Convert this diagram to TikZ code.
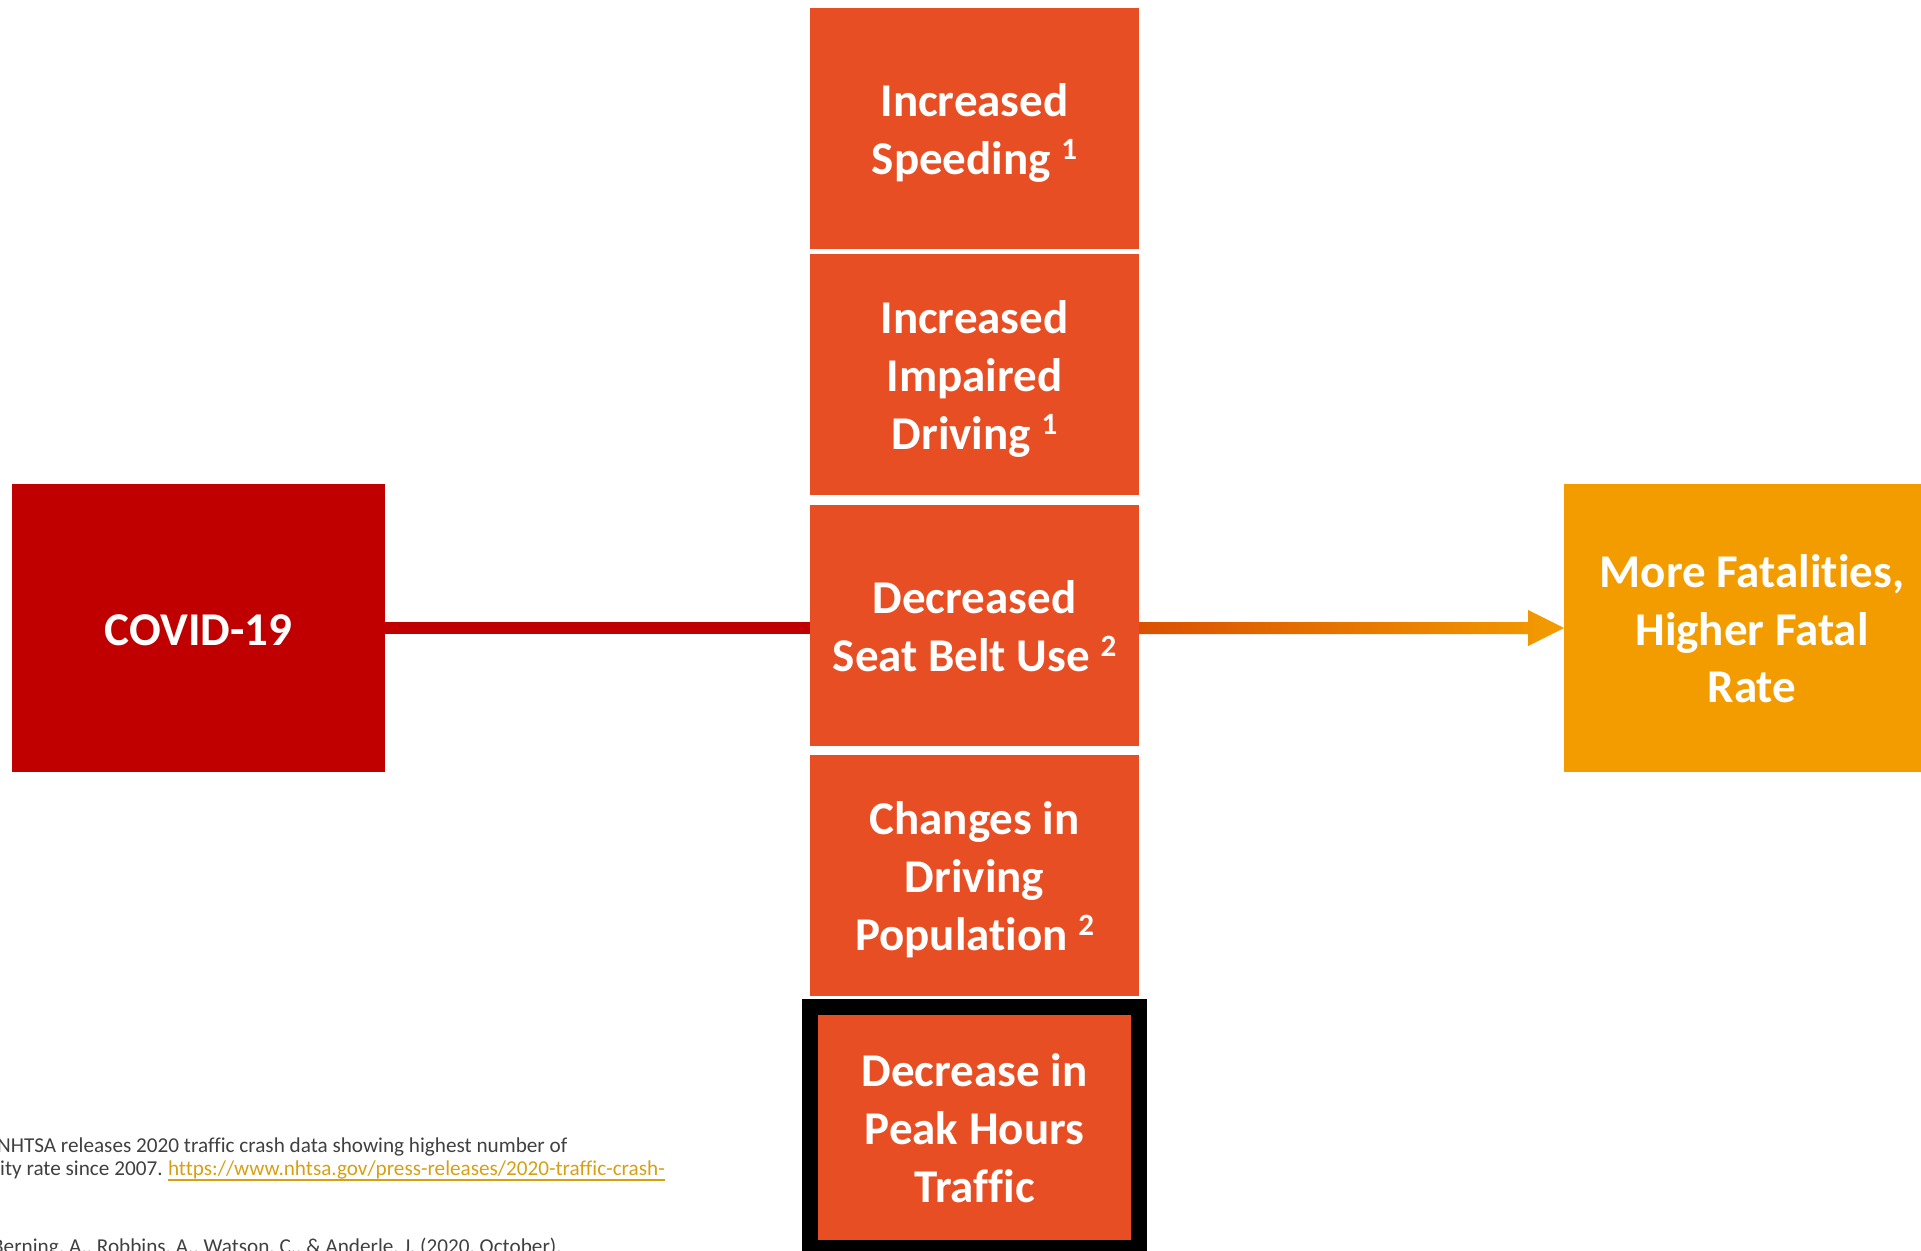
\documentclass[tikz,border=0pt]{standalone}
\usepackage{fontspec}
\setmainfont{Carlito}[Ligatures={NoCommon, NoRequired, NoContextual, NoRare, NoHistoric}]
\usetikzlibrary{positioning, arrows.meta}

\definecolor{covidred}{HTML}{C00000}
\definecolor{causeorange}{HTML}{E84E24}
\definecolor{fatalorange}{HTML}{F39C00}
\definecolor{arrowstart}{HTML}{DA5000}
\definecolor{notegray}{HTML}{404040}
\definecolor{linkgold}{HTML}{D6A014}

\newcommand{\refmark}[1]{\raisebox{15pt}{\fontsize{31}{31}\selectfont #1}}
\newcommand{\linestrut}{\rule[-11.8pt]{0pt}{57.6pt}}

\begin{document}
\begin{tikzpicture}[x=1pt, y=-1pt,
    box/.style={fill=causeorange, text=white, inner sep=0pt, outer sep=0pt,
      minimum width=329pt, minimum height=241pt, align=center,
      font=\fontsize{47}{57.6}\selectfont\bfseries},
    endbox/.style={box, minimum width=373pt, minimum height=288pt},
    note/.style={anchor=base west, inner sep=0pt, text=notegray,
      font=\fontsize{21.2}{23}\selectfont}]
  \useasboundingbox (0,0) rectangle (1921,1250);
  \clip (0,0) rectangle (1921,1250);

  \node[endbox, fill=covidred] (covid) at (198.5,628) {\linestrut COVID-19};
  \node[endbox, fill=fatalorange, minimum width=376pt] (fatal) at (1752,628)
    {\linestrut More Fatalities,\\Higher Fatal\\Rate\linestrut};

  \node[box] (speeding) at (974.5,128.5) {\linestrut Increased\\Speeding \refmark{1}\linestrut};
  \node[box, below=5pt of speeding] (impaired)
    {\linestrut Increased\\Impaired\\Driving \refmark{1}\linestrut};
  \node[box, below=10pt of impaired] (seatbelt)
    {\linestrut Decreased\\Seat Belt Use \refmark{2}\linestrut};
  \node[box, below=9pt of seatbelt] (population)
    {\linestrut Changes in\\Driving\\Population \refmark{2}\linestrut};
  \node[box, draw=black, line width=16pt, below=11pt of population] (peak)
    {\linestrut Decrease in\\Peak Hours\\Traffic\linestrut};

  \draw[covidred, line width=12pt] (covid.east) -- (covid.east -| seatbelt.west);
  \coordinate (tail) at (seatbelt.east |- fatal.west);
  \shade[left color=arrowstart, right color=fatalorange]
    ([yshift=6pt]tail) -- ([xshift=-36pt, yshift=6pt]fatal.west)
    -- ([xshift=-36pt, yshift=18pt]fatal.west) -- (fatal.west)
    -- ([xshift=-36pt, yshift=-18pt]fatal.west) -- ([xshift=-36pt, yshift=-6pt]fatal.west)
    -- ([yshift=-6pt]tail) -- cycle;

  \node[note] (nhtsa) at (-3,1152)
    {NHTSA releases 2020 traffic crash data showing highest number of};
  \node[note] (since) at (0,1175) {ity rate since 2007.};
  \node[note, text=linkgold] (link) at ([xshift=5pt]since.base east)
    {https://www.nhtsa.gov/press-releases/2020-traffic-crash-};
  \draw[linkgold, line width=1.4pt] ([yshift=-5pt]link.base west) -- ([yshift=-5pt]link.base east);
  \node[note] (berning) at (-8,1253)
    {Berning, A., Robbins, A., Watson, C., \& Anderle, J. (2020, October).};
\end{tikzpicture}
\end{document}
